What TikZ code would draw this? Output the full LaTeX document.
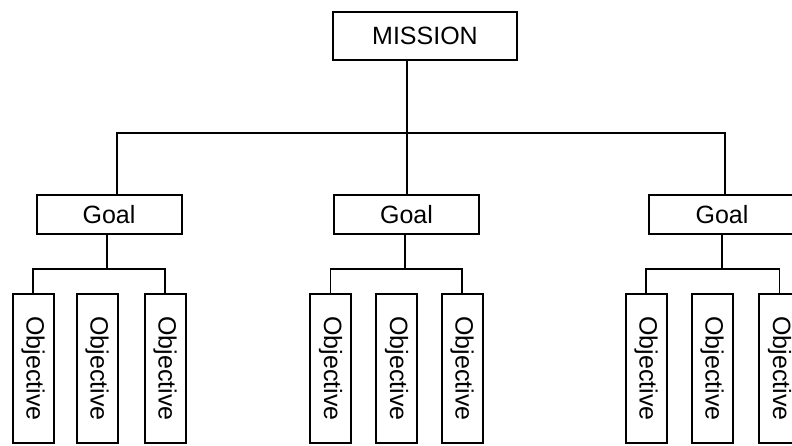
\documentclass[tikz,border=0pt]{standalone}
\usepackage{fontspec}
\setmainfont{Liberation Sans}
\begin{document}
\begin{tikzpicture}[x=1pt,y=-1pt,
  line width=1.8pt,
  box/.style={draw, line width=2pt, inner sep=0pt, font=\fontsize{25}{29}\selectfont},
  goalbox/.style={box, minimum width=145pt, minimum height=39pt},
  objbox/.style={box, minimum width=41pt, minimum height=149pt, font=\fontsize{25}{29}\selectfont}]
\useasboundingbox (0,0) rectangle (792,446);
\clip (0,0) rectangle (792,446);
% mission
\node[box, minimum width=184pt, minimum height=48pt] (mission) at (425,36) {MISSION};
% goals
\node[goalbox] (g1) at (109,214.5) {Goal};
\node[goalbox] (g2) at (406.5,214.5) {Goal};
\node[goalbox, minimum width=146pt] (g3) at (722,214.5) {Goal};
% objectives
\foreach \n/\x in {o11/33,o12/97,o13/165,o21/330.5,o22/396.5,o23/462,o31/646,o32/712,o33/779.5}
  \node[objbox] (\n) at (\x,368.5) {\rotatebox{-90}{Objective}};
% main connectors
\coordinate (m) at (407,133);
\coordinate (s1) at (117,133);
\coordinate (s3) at (725,133);
\draw (mission.south -| m) -- (m);
\draw (g1.north -| s1) -- (s1) -- (s3) -- (g3.north -| s3);
\draw (m) -- (g2.north -| m);
% sub connectors
\coordinate (j1) at (107,269);
\coordinate (j2) at (405,269);
\coordinate (j3) at (722,269);
\draw (g1.south -| j1) -- (j1);
\draw (g2.south -| j2) -- (j2);
\draw (g3.south -| j3) -- (j3);
\draw (o11.north) |- (j1) -| (o13.north);
\draw (o21.north) |- (j2) -| (o23.north);
\draw (o31.north) |- (j3) -| (o33.north);
\end{tikzpicture}
\end{document}
